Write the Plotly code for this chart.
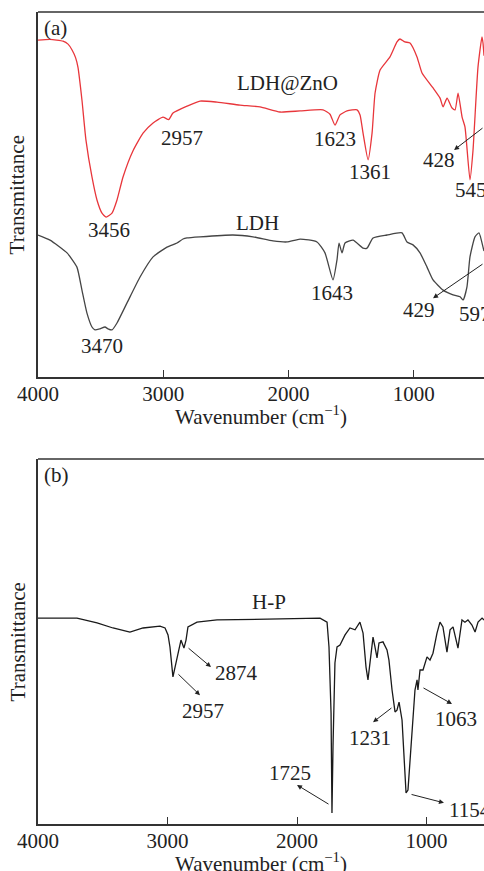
import plotly.graph_objects as go

# ---------------- Panel (a) data ----------------
ldhzno_wn = [4000, 3904, 3800, 3760, 3728, 3700, 3681, 3649, 3617, 3569, 3529, 3489, 3456, 3409,
             3369, 3321, 3241, 3161, 3081, 3002, 2957, 2922, 2810, 2706, 2570, 2387, 2227, 2067,
             1907, 1724, 1668, 1628, 1588, 1532, 1452, 1428, 1404, 1364, 1332, 1308, 1268, 1189,
             1133, 1109, 1070, 1029, 973, 933, 845, 789, 765, 733, 693, 669, 645, 613, 590, 550,
             526, 486, 454, 446, 438]
ldhzno_t = [92.3, 92.5, 92.0, 91.2, 89.6, 87.5, 84.9, 75.9, 64.9, 54.8, 48.5, 44.9, 43.8, 44.9,
            48.5, 54.8, 62.0, 66.8, 69.6, 71.2, 70.5, 72.3, 74.2, 75.6, 75.3, 74.5, 74.0, 72.6,
            72.9, 73.2, 72.0, 69.0, 71.8, 72.9, 73.2, 71.8, 66.8, 59.5, 66.8, 77.8, 84.1, 87.7,
            91.8, 92.6, 91.8, 91.5, 87.7, 83.3, 79.2, 76.4, 74.0, 76.4, 73.7, 73.2, 77.8, 71.2,
            68.5, 54.0, 62.0, 84.9, 93.2, 91.5, 88.0]

ldh_wn = [4000, 3904, 3768, 3689, 3649, 3609, 3569, 3545, 3505, 3465, 3441, 3409, 3369, 3289,
          3185, 3081, 2970, 2890, 2842, 2810, 2706, 2443, 2283, 2123, 2011, 1907, 1772, 1708,
          1644, 1612, 1596, 1572, 1548, 1484, 1404, 1372, 1324, 1213, 1093, 1053, 1005, 949,
          893, 845, 765, 685, 629, 605, 574, 550, 510, 478, 446, 438]
ldh_t = [38.9, 37.5, 34.0, 30.1, 23.8, 17.5, 13.7, 12.9, 13.2, 13.7, 13.2, 12.9, 14.8, 20.3,
         27.4, 32.9, 35.6, 36.7, 37.8, 38.1, 38.4, 38.9, 38.4, 37.3, 37.0, 37.8, 37.0, 34.0,
         26.6, 32.1, 36.7, 34.0, 36.7, 37.5, 35.3, 35.3, 38.1, 38.9, 39.5, 37.0, 36.2, 34.0,
         30.1, 26.6, 23.8, 22.5, 22.0, 21.1, 24.7, 32.9, 38.4, 39.5, 35.6, 34.5]

# ---------------- Panel (b) data ----------------
hp_wn = [4000, 3699, 3544, 3421, 3290, 3189, 3058, 3019, 2996, 2981, 2958, 2942, 2919, 2896,
         2873, 2857, 2842, 2772, 2618, 1977, 1822, 1768, 1753, 1737, 1730, 1722, 1707, 1691,
         1668, 1629, 1591, 1552, 1514, 1490, 1467, 1452, 1436, 1413, 1398, 1382, 1367, 1336,
         1305, 1290, 1266, 1243, 1228, 1212, 1189, 1174, 1158, 1143, 1112, 1089, 1073, 1066,
         1050, 1027, 996, 973, 950, 919, 896, 873, 842, 818, 795, 772, 757, 726, 703, 680,
         649, 625, 602, 571, 556]
hp_t = [56.4, 56.4, 55.1, 53.7, 52.6, 53.7, 54.2, 53.7, 51.8, 48.5, 40.3, 43.0, 46.8, 50.4,
        48.2, 50.4, 54.0, 55.3, 55.9, 56.4, 56.4, 55.3, 48.5, 30.4, 3.0, 21.1, 44.1, 48.5,
        49.0, 51.8, 53.7, 53.2, 55.3, 52.3, 43.0, 39.5, 44.1, 51.2, 48.5, 45.5, 49.6, 49.9,
        47.7, 44.9, 36.7, 30.7, 31.2, 33.4, 28.5, 19.5, 8.5, 9.3, 25.8, 36.7, 39.5, 36.7,
        42.2, 42.2, 45.8, 44.9, 46.8, 52.3, 55.3, 54.0, 47.1, 53.2, 54.0, 49.9, 48.2, 55.9,
        55.3, 55.9, 54.5, 52.6, 55.3, 56.4, 55.9]

# label annotations: (text, wavenumber, T, xanchor)
labels_a = [("LDH@ZnO", 2011, 80.5, "center"), ("2957", 2850, 65.5, "center"),
            ("1623", 1628, 65.2, "center"), ("1361", 1348, 56.2, "center"),
            ("428", 797, 59.5, "center"), ("545", 685, 51.2, "left"),
            ("3456", 3433, 40.3, "center"), ("LDH", 2243, 42.2, "center"),
            ("3470", 3489, 8.5, "center"), ("1643", 1652, 23.0, "center"),
            ("429", 957, 18.4, "center"), ("597", 653, 17.3, "left")]
# arrows: (head_wn, head_T, tail_wn, tail_T)
arrows_a = [(677, 62.2, 438, 68.5), (845, 21.6, 438, 31.2)]

labels_b = [("H-P", 2216, 60.8, "center"), ("2874", 2471, 41.4, "center"),
            ("2957", 2726, 31.0, "center"), ("1725", 2054, 14.0, "center"),
            ("1231", 1436, 23.6, "center"), ("1063", 772, 28.8, "center"),
            ("1154", 842, 3.8, "left")]
arrows_b = [(2664, 43.0, 2849, 48.5), (2749, 35.3, 2927, 41.4), (2000, 10.7, 1745, 5.2),
            (1413, 27.9, 1259, 32.1), (803, 32.9, 1035, 37.5), (865, 5.8, 1127, 8.2)]

tick_vals = [4000, 3000, 2000, 1000]

FONT = "Liberation Serif, Times New Roman, serif"
TXT = "#222222"
AXC = "#333333"

fig = go.Figure()
fig.add_trace(go.Scatter(x=ldhzno_wn, y=ldhzno_t, mode="lines",
                         line=dict(color="#e8363b", width=1.3, shape="spline", smoothing=0.5),
                         xaxis="x", yaxis="y", name="LDH@ZnO", showlegend=False))
fig.add_trace(go.Scatter(x=ldh_wn, y=ldh_t, mode="lines",
                         line=dict(color="#454545", width=1.3, shape="spline", smoothing=0.5),
                         xaxis="x", yaxis="y", name="LDH", showlegend=False))
fig.add_trace(go.Scatter(x=hp_wn, y=hp_t, mode="lines", line=dict(color="#1a1a1a", width=1.3),
                         xaxis="x2", yaxis="y2", name="H-P", showlegend=False))

xcommon = dict(tickvals=tick_vals, ticks="inside", ticklen=7, tickwidth=1.3, tickcolor=AXC,
               showline=True, linecolor=AXC, linewidth=1.5, showgrid=False, zeroline=False,
               ticklabelstandoff=-3,
               tickfont=dict(family=FONT, size=21, color=TXT))
ycommon = dict(range=[0, 100], showticklabels=False, ticks="", showline=True, linecolor=AXC,
               linewidth=1.5, showgrid=False, zeroline=False)

fig.update_layout(
    width=484, height=871,
    margin=dict(l=38, r=0, t=12, b=47),
    paper_bgcolor="white", plot_bgcolor="white",
    xaxis=dict(domain=[0, 1], range=[4000, 438], anchor="y", **xcommon),
    yaxis=dict(domain=[0.5505, 1], anchor="x", **ycommon),
    xaxis2=dict(domain=[0, 1], range=[4000, 556], anchor="y2", **xcommon),
    yaxis2=dict(domain=[0, 0.4495], anchor="x2", **ycommon),
)

# top border lines
for xr, yr in (("x domain", "y domain"), ("x2 domain", "y2 domain")):
    fig.add_shape(type="line", xref=xr, yref=yr, x0=0, x1=1, y0=1, y1=1,
                  line=dict(color=AXC, width=1.5))

annots = []
for (txt, wx, ty, xa) in labels_a:
    annots.append(dict(text=txt, x=wx, y=ty, xref="x", yref="y", showarrow=False, xanchor=xa,
                       font=dict(family=FONT, size=21, color=TXT)))
for (txt, wx, ty, xa) in labels_b:
    annots.append(dict(text=txt, x=wx, y=ty, xref="x2", yref="y2", showarrow=False, xanchor=xa,
                       font=dict(family=FONT, size=21, color=TXT)))
for (hx, hy, tx, ty) in arrows_a:
    annots.append(dict(text="", x=hx, y=hy, ax=tx, ay=ty, xref="x", yref="y", axref="x", ayref="y",
                       showarrow=True, arrowhead=2, arrowsize=1, arrowwidth=1, arrowcolor=TXT))
for (hx, hy, tx, ty) in arrows_b:
    annots.append(dict(text="", x=hx, y=hy, ax=tx, ay=ty, xref="x2", yref="y2", axref="x2", ayref="y2",
                       showarrow=True, arrowhead=2, arrowsize=1, arrowwidth=1, arrowcolor=TXT))

# panel letters
annots.append(dict(text="(a)", x=3864, y=95.6, xref="x", yref="y", showarrow=False,
                   font=dict(family=FONT, size=21, color=TXT)))
annots.append(dict(text="(b)", x=3861, y=95.6, xref="x2", yref="y2", showarrow=False,
                   font=dict(family=FONT, size=21, color=TXT)))
# axis titles
for xr, yr, ys in (("x domain", "y domain", -39), ("x2 domain", "y2 domain", -38)):
    annots.append(dict(text="Wavenumber (cm<sup>−1</sup>)", x=0.5, y=0, xref=xr, yref=yr,
                       yanchor="middle", yshift=ys, showarrow=False,
                       font=dict(family=FONT, size=21, color=TXT)))
for ydom in ((0.5505 + 1) / 2, 0.4495 / 2):
    annots.append(dict(text="Transmittance", x=-0.045, y=ydom, xref="paper", yref="paper",
                       textangle=-90, showarrow=False, xanchor="center", yanchor="middle",
                       font=dict(family=FONT, size=21, color=TXT)))

fig.update_layout(annotations=annots)
fig.write_html("out.html", config={"displayModeBar": False},
               post_script="document.body.style.margin='0px';document.body.style.overflow='hidden';")
